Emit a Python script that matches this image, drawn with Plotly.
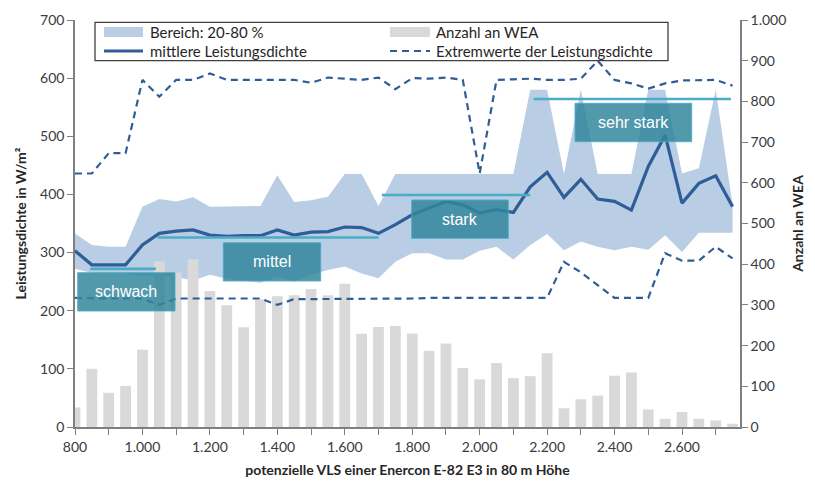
import plotly.graph_objects as go

# ---------------- data ----------------
vls = [800, 850, 900, 950, 1000, 1050, 1100, 1150, 1200, 1250,
       1300, 1350, 1400, 1450, 1500, 1550, 1600, 1650, 1700, 1750,
       1800, 1850, 1900, 1950, 2000, 2050, 2100, 2150, 2200, 2250,
       2300, 2350, 2400, 2450, 2500, 2550, 2600, 2650, 2700, 2750]

anzahl_wea = [48, 143, 84, 101, 190, 407, 379, 412, 334, 299,
              245, 313, 321, 324, 339, 324, 352, 229, 246, 248,
              230, 187, 205, 145, 117, 157, 120, 125, 181, 46,
              68, 77, 126, 134, 43, 20, 37, 20, 16, 8]

mittel_ld = [303, 279, 279, 279, 313, 333, 337, 339, 330, 328,
             329, 329, 339, 330, 335, 336, 344, 343, 333, 348,
             365, 377, 388, 382, 368, 374, 369, 413, 438, 395,
             426, 392, 388, 373, 448, 502, 385, 419, 432, 379]

p80 = [333, 313, 310, 310, 379, 392, 388, 395, 379, 379,
       379, 380, 433, 387, 390, 396, 435, 435, 380, 435,
       435, 435, 435, 435, 435, 435, 435, 580, 580, 435,
       580, 435, 435, 435, 580, 580, 436, 445, 580, 382]

p20 = [272, 265, 265, 265, 260, 262, 258, 252, 262, 255,
       252, 248, 258, 250, 262, 270, 276, 264, 256, 284,
       299, 299, 288, 288, 303, 310, 288, 313, 332, 304,
       319, 310, 304, 310, 305, 330, 301, 334, 334, 334]

max_ld = [436, 436, 471, 471, 597, 568, 597, 597, 608, 597,
          597, 597, 597, 597, 592, 601, 599, 597, 601, 581,
          600, 599, 601, 597, 436, 597, 598, 599, 597, 597,
          599, 630, 597, 591, 582, 591, 596, 596, 597, 587]

min_ld = [222, 221, 221, 221, 221, 210, 221, 221, 221, 221,
          221, 221, 210, 220, 220, 220, 221, 221, 220, 220,
          221, 222, 222, 222, 222, 222, 222, 222, 222, 284,
          266, 244, 222, 222, 222, 299, 286, 286, 310, 290]

klassen = ["schwach", "mittel", "stark", "sehr stark"]
klasse_von = [845, 1045, 1710, 2160]
klasse_bis = [1040, 1700, 2150, 2745]
klasse_niveau = [272, 326, 399, 564]

x_tickvals = [800, 900, 1000, 1100, 1200, 1300, 1400, 1500, 1600, 1700,
              1800, 1900, 2000, 2100, 2200, 2300, 2400, 2500, 2600, 2700]
x_ticktext = ["800", "", "1.000", "", "1.200", "", "1.400", "", "1.600", "",
              "1.800", "", "2.000", "", "2.200", "", "2.400", "", "2.600", ""]
y_tickvals = [0, 100, 200, 300, 400, 500, 600, 700]
y_ticktext = ["0", "100", "200", "300", "400", "500", "600", "700"]
y2_tickvals = [0, 100, 200, 300, 400, 500, 600, 700, 800, 900, 1000]
y2_ticktext = ["0", "100", "200", "300", "400", "500", "600", "700", "800", "900", "1.000"]

# ---------------- styles ----------------
FONT = "Lato"
TXT = "#3a3a3a"
AX = "#7f7f7f"
BAND = "#B9CDE5"
BAR = "#D9D9D9"
LINE = "#2F5D98"
TEAL_LINE = "#4BACC6"
BOX_FILL = "rgba(49,133,156,0.84)"

# page has an 8px body margin: figure is sized/offset so the plot area
# lands on page pixels x 75..740, y 20..427
W, H = 807, 476
L, R, T, B = 67, 75, 12, 57


def px(x):
    return (x - 75) / 665


def py(y):
    return (427 - y) / 407


fig = go.Figure()

# band (primary axis)
fig.add_trace(go.Scatter(x=vls, y=p20, mode="lines", line=dict(width=0, color=BAND),
                         showlegend=False, hoverinfo="skip", yaxis="y"))
fig.add_trace(go.Scatter(x=vls, y=p80, mode="lines", line=dict(width=0, color=BAND),
                         fill="tonexty", fillcolor=BAND, showlegend=False, yaxis="y"))

# bars (secondary axis)
fig.add_trace(go.Bar(x=vls, y=anzahl_wea, width=32, marker=dict(color=BAR, line=dict(width=0)),
                     showlegend=False, yaxis="y2"))

# lines (third overlay axis, same scale as primary)
fig.add_trace(go.Scatter(x=vls, y=max_ld, mode="lines",
                         line=dict(color=LINE, width=2.2, dash="7px,5px"),
                         showlegend=False, yaxis="y3"))
fig.add_trace(go.Scatter(x=vls, y=min_ld, mode="lines",
                         line=dict(color=LINE, width=2.2, dash="7px,5px"),
                         showlegend=False, yaxis="y3"))
fig.add_trace(go.Scatter(x=vls, y=mittel_ld, mode="lines",
                         line=dict(color=LINE, width=3.2),
                         showlegend=False, yaxis="y3"))

shapes = []
annotations = []

# class level lines
for v, b, n in zip(klasse_von, klasse_bis, klasse_niveau):
    shapes.append(dict(type="line", xref="x", yref="y", x0=v, x1=b, y0=n, y1=n,
                       line=dict(color=TEAL_LINE, width=2.6), layer="above"))

# class boxes (page pixel positions)
boxes = [(77.7, 175, 272.7, 311), (223.3, 320.7, 242.7, 281),
         (411.7, 508.3, 200, 238.3), (575, 691.7, 103.3, 141.7)]
for name, (x0, x1, y0, y1) in zip(klassen, boxes):
    shapes.append(dict(type="rect", xref="paper", yref="paper",
                       x0=px(x0), x1=px(x1), y0=py(y1), y1=py(y0),
                       fillcolor=BOX_FILL, line=dict(color="rgba(75,172,198,0.9)", width=1),
                       layer="above"))
    annotations.append(dict(xref="paper", yref="paper", x=px((x0 + x1) / 2), y=py((y0 + y1) / 2),
                            text=name, showarrow=False,
                            font=dict(family="Liberation Sans", size=16, color="white"),
                            xanchor="center", yanchor="middle"))

# legend (manual)
shapes.append(dict(type="rect", xref="paper", yref="paper",
                   x0=px(95), x1=px(668), y0=py(60.7), y1=py(22.3),
                   fillcolor="white", line=dict(color="#404040", width=1.3), layer="above"))
shapes.append(dict(type="rect", xref="paper", yref="paper",
                   x0=px(104), x1=px(143), y0=py(37), y1=py(27),
                   fillcolor=BAND, line=dict(width=0), layer="above"))
shapes.append(dict(type="line", xref="paper", yref="paper",
                   x0=px(104), x1=px(143), y0=py(51), y1=py(51),
                   line=dict(color=LINE, width=3.2), layer="above"))
shapes.append(dict(type="rect", xref="paper", yref="paper",
                   x0=px(390), x1=px(430), y0=py(37), y1=py(27),
                   fillcolor=BAR, line=dict(width=0), layer="above"))
shapes.append(dict(type="line", xref="paper", yref="paper",
                   x0=px(390), x1=px(430), y0=py(51), y1=py(51),
                   line=dict(color=LINE, width=2.2, dash="7px,5px"), layer="above"))
for tx, xx, yy in [("Bereich: 20-80 %", 148, 32), ("mittlere Leistungsdichte", 148, 51),
                   ("Anzahl an WEA", 434, 32), ("Extremwerte der Leistungsdichte", 434, 51)]:
    annotations.append(dict(xref="paper", yref="paper", x=px(xx), y=py(yy), text=tx,
                            showarrow=False, xanchor="left", yanchor="middle",
                            font=dict(family=FONT, size=15, color="#262626")))

axis_common = dict(showgrid=False, zeroline=False, showline=True, linecolor=AX, linewidth=1.5,
                   ticks="outside", ticklen=6, tickcolor=AX, tickwidth=1.3, automargin=False,
                   tickfont=dict(family=FONT, size=14, color=TXT))

fig.update_layout(
    width=W, height=H,
    margin=dict(l=L, r=R, t=T, b=B),
    paper_bgcolor="white", plot_bgcolor="white",
    showlegend=False,
    barmode="overlay",
    xaxis=dict(range=[800, 2772], tickmode="array", tickvals=x_tickvals, ticktext=x_ticktext,
               title=dict(text="potenzielle VLS einer Enercon E-82 E3 in 80 m Höhe",
                          font=dict(family=FONT, size=14, color="#262626", weight="bold"),
                          standoff=12),
               **axis_common),
    yaxis=dict(range=[0, 700], tickmode="array", tickvals=y_tickvals, ticktext=y_ticktext,
               title=dict(text="Leistungsdichte in W/m²",
                          font=dict(family=FONT, size=14, color="#262626", weight="bold"),
                          standoff=10),
               **axis_common),
    yaxis2=dict(range=[0, 1000], overlaying="y", side="right", anchor="x",
                tickmode="array", tickvals=y2_tickvals, ticktext=y2_ticktext,
                title=dict(text="Anzahl an WEA",
                           font=dict(family=FONT, size=14, color="#262626", weight="bold"),
                           standoff=8),
                **axis_common),
    yaxis3=dict(range=[0, 700], overlaying="y", visible=False),
    shapes=shapes,
    annotations=annotations,
)

fig.write_html("out.html")
